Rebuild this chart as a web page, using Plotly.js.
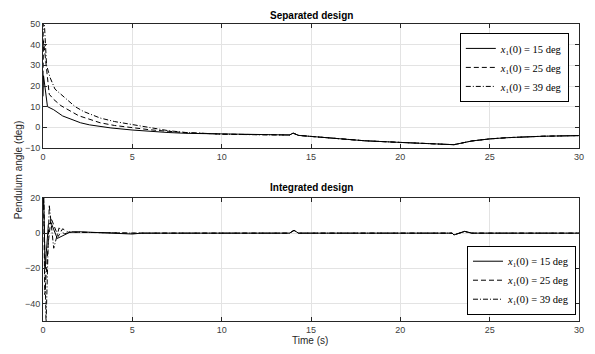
<!DOCTYPE html>
<html><head><meta charset="utf-8">
<script src="https://cdn.plot.ly/plotly-3.0.1.min.js"></script>
<style>html,body{margin:0;padding:0;background:#fff}</style>
</head><body>
<div id="chart" style="width:595px;height:354px"></div>
<script>
// Separated design
const sepT1 = [0,0.03,0.25,0.6,1.1,1.6,2.1,2.6,3.2,3.8,5,6,7,8,10,12,13.8,14.0,14.3,15,16,18,20,22,23,24,25,26,28,30];
const sepY1 = [15,25,10,8.5,5.5,3.8,2.2,1.2,0.3,-0.3,-1.3,-2,-2.5,-2.9,-3.3,-3.6,-3.7,-2.8,-3.9,-4.4,-5.2,-6.5,-7.3,-8.0,-8.4,-6.6,-5.6,-5.0,-4.3,-4.0];
const sepT2 = [0,0.03,0.35,0.6,1,1.4,2,2.5,3.2,4,5,6,7,8,10,12,13.8,14.0,14.3,15,16,18,20,22,23,24,25,26,28,30];
const sepY2 = [25,42,16,13.5,10.5,8.4,5.6,4.2,2.2,0.9,-0.3,-1.2,-1.9,-2.6,-3.3,-3.6,-3.7,-2.8,-3.9,-4.4,-5.2,-6.5,-7.3,-8.0,-8.4,-6.6,-5.6,-5.0,-4.3,-4.0];
const sepT3 = [0,0.03,0.2,0.4,0.67,1,1.33,1.8,2.26,3.2,4,5,6,7,8,10,12,13.8,14.0,14.3,15,16,18,20,22,23,24,25,26,28,30];
const sepY3 = [39,58,30,24,18.5,16,13.4,10,7.7,4.5,2.8,1.3,-0.4,-1.6,-2.5,-3.3,-3.6,-3.7,-2.8,-3.9,-4.4,-5.2,-6.5,-7.3,-8.0,-8.4,-6.6,-5.6,-5.0,-4.3,-4.0];
// Integrated design
const intT1 = [0,0.04,0.12,0.3,0.45,0.8,1.2,1.5,2,3,4,5,5.5,13.8,14.05,14.3,22.9,23.0,23.6,24,30];
const intY1 = [15,19,-20,5,6,-3,-1,0.5,0.8,0.5,0.2,-0.5,0,0,1.6,0,0,-1,1.0,0,0];
const intT2 = [0,0.03,0.1,0.3,0.45,0.85,1.1,1.4,2,3,5,13.8,14.05,14.3,22.9,23.0,23.6,24,30];
const intY2 = [25,22,-35,-5,8.6,-1.9,2.5,0.5,0.5,0.3,0,0,1.6,0,0,-1,1.0,0,0];
const intT3 = [0,0.03,0.17,0.35,0.6,0.9,1.2,1.5,2,3,5,13.8,14.05,14.3,22.9,23.0,23.6,24,30];
const intY3 = [39,30,-52,16,-8.6,3,-0.5,0.8,0.5,0.3,0,0,1.6,0,0,-1,1.0,0,0];
const legendLabels = ['<i>x</i>₁(0) = 15 deg','<i>x</i>₁(0) = 25 deg','<i>x</i>₁(0) = 39 deg'];
const xTicks = [0,5,10,15,20,25,30];

const dashes = ['solid','5px,3px','5px,2px,1px,2px'];
function tr(x,y,i,xa,ya,leg){
  return {x:x,y:y,type:'scatter',mode:'lines',xaxis:xa,yaxis:ya,legend:leg,
    name:legendLabels[i],line:{color:'#000',width:1,dash:dashes[i]}};
}
const data = [
  tr(sepT1,sepY1,0,'x','y','legend'),
  tr(sepT2,sepY2,1,'x','y','legend'),
  tr(sepT3,sepY3,2,'x','y','legend'),
  tr(intT1,intY1,0,'x2','y2','legend2'),
  tr(intT2,intY2,1,'x2','y2','legend2'),
  tr(intT3,intY3,2,'x2','y2','legend2')
];
const tickFont = {family:'Liberation Sans, Arial, sans-serif',size:9,color:'#404040'};
function xax(anchor){
  return {domain:[0,1],anchor:anchor,range:[0,30],tickvals:xTicks,ticks:'inside',ticklen:4,
    tickcolor:'#262626',showline:true,linecolor:'#262626',linewidth:1,mirror:'ticks',
    showgrid:true,gridcolor:'#e3e3e3',gridwidth:1,zeroline:false,tickfont:tickFont};
}
function yax(anchor,dom,range,vals){
  return {domain:dom,anchor:anchor,range:range,tickvals:vals,ticks:'inside',ticklen:4,
    tickcolor:'#262626',showline:true,linecolor:'#262626',linewidth:1,mirror:'ticks',
    showgrid:true,gridcolor:'#e3e3e3',gridwidth:1,zeroline:false,tickfont:tickFont};
}
const legFont = {family:'Liberation Serif, DejaVu Serif, serif',size:10.5,color:'#000'};
const layout = {
  width:595,height:354,margin:{l:43,r:16,t:24,b:33},
  paper_bgcolor:'#fff',plot_bgcolor:'#fff',
  xaxis:xax('y'),
  yaxis:yax('x',[0.5825,1],[-10,50],[-10,0,10,20,30,40,50]),
  xaxis2:xax('y2'),
  yaxis2:yax('x2',[0,0.4141],[-50,20],[-40,-20,0,20]),
  legend:{x:0.981,y:0.97,xanchor:'right',yanchor:'top',bgcolor:'#fff',bordercolor:'#000',borderwidth:1,
    font:legFont,itemwidth:30,tracegroupgap:0},
  legend2:{x:0.9944,y:0.2535,xanchor:'right',yanchor:'top',bgcolor:'#fff',bordercolor:'#000',borderwidth:1,
    font:legFont,itemwidth:30,tracegroupgap:0},
  showlegend:true,
  annotations:[
    {text:'<b>Separated design</b>',xref:'paper',yref:'paper',x:0.5,y:1.03,xanchor:'center',yanchor:'middle',showarrow:false,
      font:{family:'Liberation Sans, Arial, sans-serif',size:10,color:'#000'}},
    {text:'<b>Integrated design</b>',xref:'paper',yref:'paper',x:0.5,y:0.448,xanchor:'center',yanchor:'middle',showarrow:false,
      font:{family:'Liberation Sans, Arial, sans-serif',size:10,color:'#000'}},
    {text:'Time (s)',xref:'paper',yref:'paper',x:0.498,y:-0.064,xanchor:'center',yanchor:'middle',showarrow:false,
      font:{family:'Liberation Sans, Arial, sans-serif',size:10,color:'#262626'}},
    {text:'Pendulum angle (deg)',xref:'paper',yref:'paper',x:-0.0466,y:0.508,xanchor:'center',yanchor:'middle',showarrow:false,
      textangle:-90,font:{family:'Liberation Sans, Arial, sans-serif',size:10,color:'#262626'}}
  ]
};
Plotly.newPlot('chart',data,layout,{displayModeBar:false,staticPlot:true});
</script>
</body></html>
